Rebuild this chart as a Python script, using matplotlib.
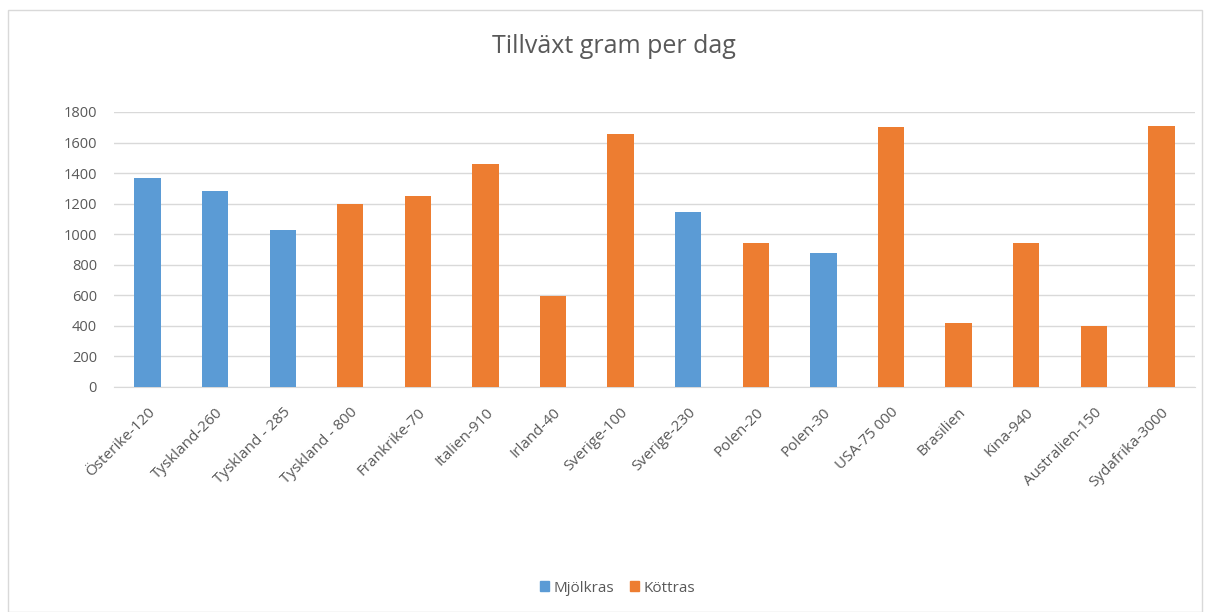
import matplotlib.pyplot as plt
import matplotlib.patches as mpatches
import numpy as np

plt.rcParams['font.family'] = ['Open Sans', 'DejaVu Sans']

kategorier = ['Österike-120', 'Tyskland-260', 'Tyskland - 285', 'Tyskland - 800',
              'Frankrike-70', 'Italien-910', 'Irland-40', 'Sverige-100',
              'Sverige-230', 'Polen-20', 'Polen-30', 'USA-75 000',
              'Brasilien', 'Kina-940', 'Australien-150', 'Sydafrika-3000']
tillvaxt = [1365, 1280, 1030, 1200, 1250, 1460, 595, 1655,
            1145, 945, 875, 1700, 415, 940, 395, 1710]
ras = ['Mjölkras', 'Mjölkras', 'Mjölkras', 'Köttras', 'Köttras', 'Köttras', 'Köttras', 'Köttras',
       'Mjölkras', 'Köttras', 'Mjölkras', 'Köttras', 'Köttras', 'Köttras', 'Köttras', 'Köttras']
serier = ['Mjölkras', 'Köttras']
farger = {'Mjölkras': '#5B9BD5', 'Köttras': '#ED7D31'}

fig = plt.figure(figsize=(12.06, 6.12), dpi=100)
ax = fig.add_axes([0.0943, 0.368, 0.8967, 0.449])

x = np.arange(len(kategorier))
varden = np.array(tillvaxt)
for s in serier:
    mask = np.array([r == s for r in ras])
    ax.bar(x[mask], varden[mask], width=0.39, color=farger[s], label=s, zorder=3)

ax.set_xlim(-0.5, len(kategorier) - 0.5)
ax.set_ylim(0, 1800)
ax.set_yticks(np.arange(0, 1801, 200))
ax.set_xticks(x)
ax.set_xticklabels(kategorier, rotation=45, ha='right', rotation_mode='anchor')
ax.tick_params(axis='both', length=0, colors='#595959')
ax.tick_params(axis='y', pad=12, labelsize=10.5)
ax.tick_params(axis='x', pad=13, labelsize=11)
ax.grid(axis='y', color='#D9D9D9', linewidth=1, zorder=0)
for side in ['top', 'right', 'left']:
    ax.spines[side].set_visible(False)
ax.spines['bottom'].set_color('#D9D9D9')

fig.text(0.509, 0.924, 'Tillväxt gram per dag', ha='center', va='center',
         fontsize=18, color='#595959')

handles = [mpatches.Patch(color=farger[s], label=s) for s in serier]
fig.legend(handles=handles, loc='center', bbox_to_anchor=(0.512, 0.039), ncol=2,
           frameon=False, fontsize=11, labelcolor='#595959',
           handlelength=0.6, handleheight=0.6, handletextpad=0.3, columnspacing=1.0)

fig.patches.append(mpatches.Rectangle((0.007, 0.0), 0.99, 0.983, transform=fig.transFigure,
                                      fill=False, edgecolor='#D9D9D9', linewidth=1))

fig.savefig('out.png', dpi=100, facecolor='white')
